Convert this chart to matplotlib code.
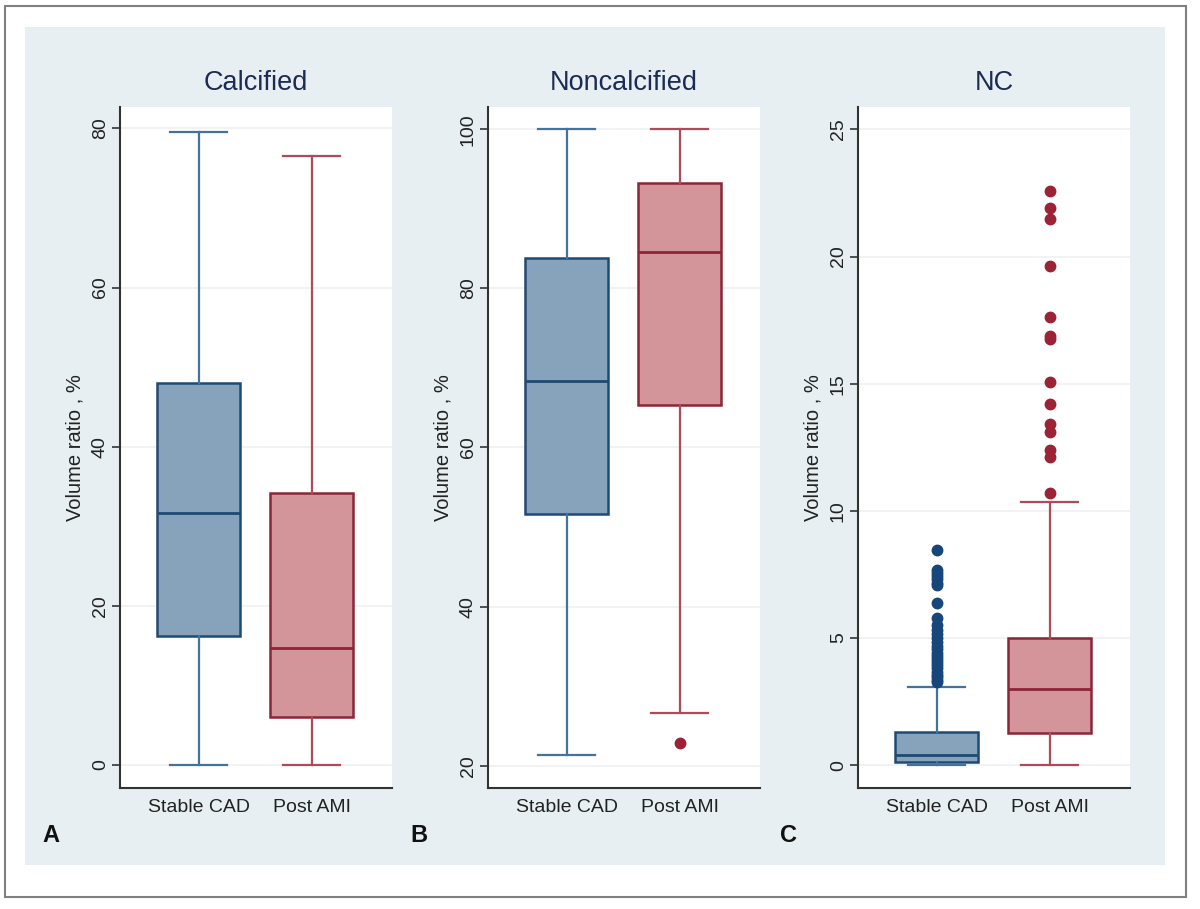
import matplotlib
matplotlib.use("Agg")
import matplotlib.pyplot as plt
from matplotlib.patches import Rectangle

plt.rcParams['font.family'] = ['Liberation Sans', 'DejaVu Sans']

groups = ["Stable CAD", "Post AMI"]
panel_titles = ["Calcified", "Noncalcified", "NC"]
panel_letters = ["A", "B", "C"]

# five-number summaries: whislo, q1, median, q3, whishi
calc_stable = [0.0, 16.2, 31.7, 48.0, 79.6]
calc_post = [0.0, 6.0, 14.7, 34.2, 76.6]
noncalc_stable = [21.35, 51.6, 68.4, 83.8, 100.0]
noncalc_post = [26.6, 65.4, 84.6, 93.3, 100.0]
nc_stable = [0.0, 0.12, 0.41, 1.31, 3.09]
nc_post = [0.0, 1.28, 2.98, 4.98, 10.33]

calc_stable_out = []
calc_post_out = []
noncalc_stable_out = []
noncalc_post_out = [22.8]
nc_stable_out = [8.45, 7.68, 7.55, 7.42, 7.3, 7.18, 7.08, 6.38, 5.8, 5.5, 5.3,
                 5.15, 5.0, 4.85, 4.7, 4.55, 4.42, 4.3, 4.18, 4.05, 3.92, 3.8,
                 3.68, 3.56, 3.45, 3.35, 3.25]
nc_post_out = [22.57, 21.92, 21.47, 19.62, 17.64, 16.87, 16.75, 15.08, 14.2,
               13.4, 13.1, 12.4, 12.1, 10.7]

y_ticks = [[0, 20, 40, 60, 80], [20, 40, 60, 80, 100], [0, 5, 10, 15, 20, 25]]
y_lims = [(-2.89, 82.7), (17.2, 102.8), (-0.90, 25.88)]
ylabel = "Volume ratio , %"

panels = [
    (calc_stable, calc_post, calc_stable_out, calc_post_out),
    (noncalc_stable, noncalc_post, noncalc_stable_out, noncalc_post_out),
    (nc_stable, nc_post, nc_stable_out, nc_post_out),
]

blue_fill = "#87a3bc"
blue_edge = "#1f4a73"
blue_whisk = "#43729b"
blue_flier = "#17467a"
red_fill = "#d4959a"
red_edge = "#8a2637"
red_whisk = "#ae4b5a"
red_flier = "#9c2236"

W, H = 1200, 909
fig = plt.figure(figsize=(12, 9.09), dpi=100)
fig.patch.set_facecolor("white")

# background axes for border and panel background
bg = fig.add_axes([0, 0, 1, 1], zorder=-10)
bg.set_xlim(0, W)
bg.set_ylim(H, 0)
bg.axis("off")
bg.add_patch(Rectangle((5, 6), 1186 - 5, 897 - 6, fill=False,
                       edgecolor="#808080", linewidth=1.5))
bg.add_patch(Rectangle((25, 27), 1165 - 25, 865 - 27, facecolor="#e7eff2",
                       edgecolor="none"))

lefts = [120, 488, 858]
ax_w = 272
ax_top, ax_bot = 107, 788

for i, (s, p, so, po) in enumerate(panels):
    ax = fig.add_axes([lefts[i] / W, 1 - ax_bot / H, ax_w / W, (ax_bot - ax_top) / H])
    ax.set_facecolor("white")
    stats = []
    for vals, out, lab in [(s, so, groups[0]), (p, po, groups[1])]:
        stats.append(dict(whislo=vals[0], q1=vals[1], med=vals[2], q3=vals[3],
                          whishi=vals[4], fliers=out, label=lab))
    for j, (st, fc, ec, wc, flc) in enumerate([
            (stats[0], blue_fill, blue_edge, blue_whisk, blue_flier),
            (stats[1], red_fill, red_edge, red_whisk, red_flier)]):
        ax.bxp([st], positions=[j + 1], widths=0.73, patch_artist=True,
               showfliers=True,
               boxprops=dict(facecolor=fc, edgecolor=ec, linewidth=1.8),
               medianprops=dict(color=ec, linewidth=2.0),
               whiskerprops=dict(color=wc, linewidth=1.6),
               capprops=dict(color=wc, linewidth=1.6),
               capwidths=0.5,
               flierprops=dict(marker="o", markerfacecolor=flc,
                               markeredgecolor=flc, markersize=7.5),
               manage_ticks=False, zorder=3)
    ax.set_xlim(0.305, 0.305 + ax_w / 113)
    ax.set_ylim(*y_lims[i])
    ax.set_yticks(y_ticks[i])
    ax.set_yticklabels([str(t) for t in y_ticks[i]], rotation=90, va="center",
                       fontsize=14, color="#222222")
    ax.set_xticks([1, 2])
    ax.set_xticklabels(groups, fontsize=14, color="#222222")
    ax.tick_params(axis="x", length=0, pad=8)
    ax.tick_params(axis="y", length=6, width=1.2, color="#333333", pad=2)
    ax.grid(axis="y", color="#eef0f1", linewidth=1.2, zorder=0)
    ax.set_axisbelow(True)
    for side in ["top", "right"]:
        ax.spines[side].set_visible(False)
    for side in ["left", "bottom"]:
        ax.spines[side].set_color("#333333")
        ax.spines[side].set_linewidth(1.5)
    ax.set_ylabel(ylabel, fontsize=14.5, color="#222222", labelpad=5)
    ax.set_title(panel_titles[i], fontsize=19.5, color="#1c2b55", pad=12)
    fig.text((lefts[i] - 78) / W, 1 - 835 / H, panel_letters[i], fontsize=17,
             fontweight="bold", color="#111111", ha="left", va="center")

fig.savefig("out.png", dpi=100, facecolor="white")
